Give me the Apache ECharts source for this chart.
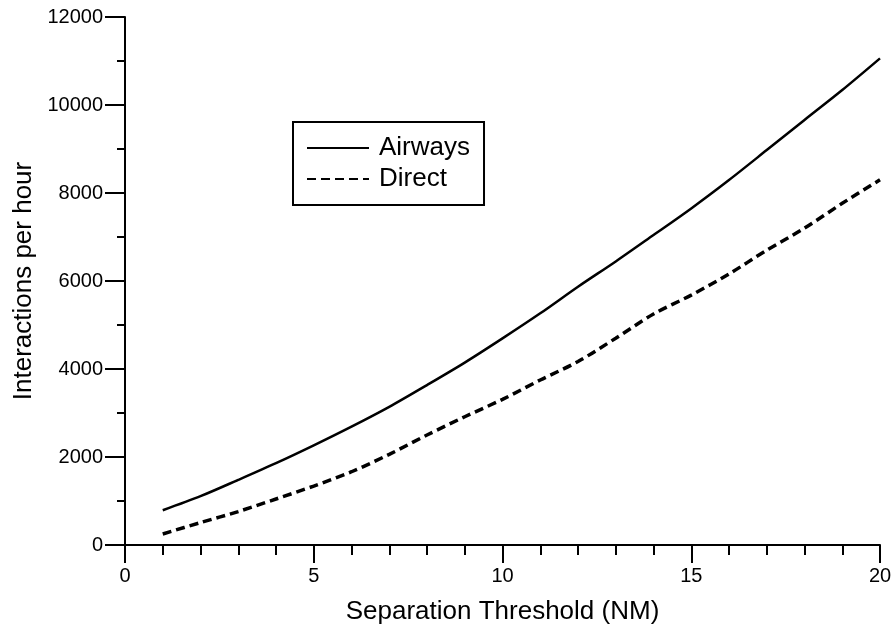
<!DOCTYPE html>
<html>
<head>
<meta charset="utf-8">
<script src="https://cdn.jsdelivr.net/npm/echarts@6/dist/echarts.min.js"></script>
<style>
  html, body { margin: 0; padding: 0; background: #fff; }
  #main { width: 896px; height: 630px; }
</style>
</head>
<body>
<div id="main"></div>
<script>
// separation threshold (NM)
var threshold = [1, 2, 3, 4, 5, 6, 7, 8, 9, 10, 11, 12, 13, 14, 15, 16, 17, 18, 19, 20];
// interactions per hour
var airways = [790, 1110, 1480, 1860, 2265, 2690, 3140, 3635, 4145, 4695, 5265, 5870, 6445, 7045, 7650, 8295, 8975, 9660, 10340, 11060];
var direct = [250, 510, 760, 1045, 1340, 1665, 2060, 2500, 2915, 3310, 3750, 4170, 4700, 5250, 5680, 6160, 6700, 7200, 7765, 8300];

function pairs(xs, ys) {
  return xs.map(function (x, i) { return [x, ys[i]]; });
}

var font = 'Liberation Sans, Arial, sans-serif';
var chart = echarts.init(document.getElementById('main'));

chart.setOption({
  animation: false,
  backgroundColor: '#fff',
  grid: { left: 125, right: 16, top: 17, bottom: 85 },
  legend: {
    orient: 'vertical',
    left: 293, top: 122,
    padding: [13, 14, 13, 13],
    borderColor: '#000', borderWidth: 2,
    itemWidth: 62, itemHeight: 14, itemGap: 5,
    itemStyle: { opacity: 0 },
    textStyle: { fontFamily: font, fontSize: 26, color: '#000', padding: [0, 0, 0, 5] },
    data: ['Airways', 'Direct']
  },
  xAxis: {
    type: 'value', min: 0, max: 20, interval: 5,
    name: 'Separation Threshold (NM)', nameLocation: 'middle', nameGap: 54,
    nameTextStyle: { fontFamily: font, fontSize: 26, color: '#000' },
    axisLine: { onZero: false, lineStyle: { color: '#000', width: 2 } },
    axisTick: { length: 18, lineStyle: { color: '#000', width: 2 } },
    minorTick: { show: true, splitNumber: 5, length: 10, lineStyle: { color: '#000', width: 2 } },
    axisLabel: { fontFamily: font, fontSize: 20, color: '#000', margin: 21, formatter: function (v) { return String(v); } },
    splitLine: { show: false }
  },
  yAxis: {
    type: 'value', min: 0, max: 12000, interval: 2000,
    name: 'Interactions per hour', nameLocation: 'middle', nameGap: 88, nameRotate: 90,
    nameTextStyle: { fontFamily: font, fontSize: 26, color: '#000' },
    axisLine: { show: true, onZero: false, lineStyle: { color: '#000', width: 2 } },
    axisTick: { show: true, length: 20, lineStyle: { color: '#000', width: 2 } },
    minorTick: { show: true, splitNumber: 2, length: 8, lineStyle: { color: '#000', width: 2 } },
    axisLabel: { fontFamily: font, fontSize: 20, color: '#000', margin: 22, formatter: function (v) { return String(v); } },
    splitLine: { show: false }
  },
  series: [
    {
      name: 'Airways', type: 'line', symbol: 'none', showSymbol: false, smooth: 0.3,
      lineStyle: { color: '#000', width: 2.5, type: 'solid' },
      itemStyle: { color: '#000' },
      data: pairs(threshold, airways)
    },
    {
      name: 'Direct', type: 'line', symbol: 'none', showSymbol: false, smooth: 0.3,
      lineStyle: { color: '#000', width: 3.5, type: [9, 5] },
      itemStyle: { color: '#000' },
      data: pairs(threshold, direct)
    }
  ]
});
</script>
</body>
</html>
